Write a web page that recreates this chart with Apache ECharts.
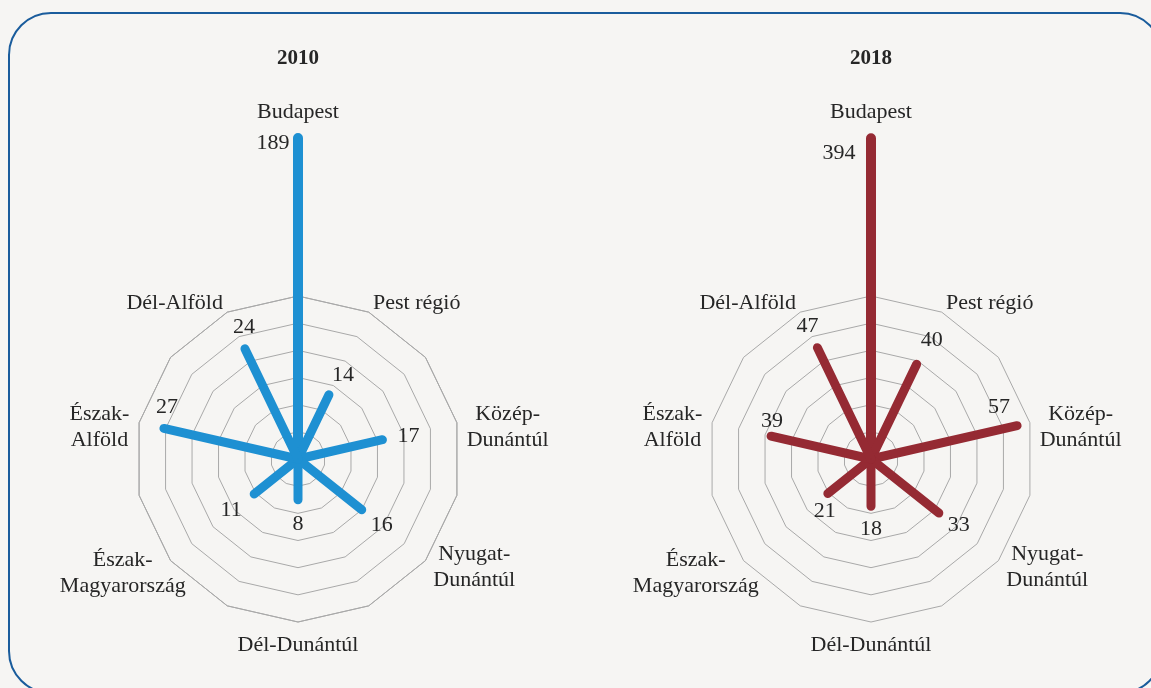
<!DOCTYPE html>
<html>
<head>
<meta charset="utf-8">
<script src="https://cdn.jsdelivr.net/npm/echarts@6/dist/echarts.min.js"></script>
<style>
  html, body { margin: 0; padding: 0; background: #f6f5f3; }
  #regio-chart { width: 1151px; height: 688px; }
</style>
</head>
<body>
<div id="regio-chart"></div>
<script>
  // régiók óramutató szerint, Budapesttől
  var regions = ['Budapest', 'Pest régió', 'Közép-Dunántúl', 'Nyugat-Dunántúl',
                 'Dél-Dunántúl', 'Észak-Magyarország', 'Észak-Alföld', 'Dél-Alföld'];
  // hányadik helyen áll a 14 tengelyes rácson
  var slots = [0, 1, 3, 5, 7, 9, 11, 13];
  var years = ['2010', '2018'];
  var values2010 = [189, 14, 17, 16, 8, 11, 27, 24];
  var values2018 = [394, 40, 57, 33, 18, 21, 39, 47];
  var axisMax = [32, 62];
  var axisCap = [63, 122]; // Budapest vonala itt el van vágva

  var FONT = '"Liberation Serif", "DejaVu Serif", serif';
  var TEXT = '#262626';
  var colors = ['#1e90d2', '#952a33'];
  var centers = [[298, 459], [871, 459]];
  // számcímkék eltolása a vonal végéhez képest
  var labelOffsets = [
    [[-25, 5], [14, -20], [26, -4], [20, 15], [0, 24], [-23, 16], [3, -21], [-1, -22]],
    [[-32, 15], [15, -24], [-18, -18], [20, 12], [0, 23], [-3, 18], [1, -15], [-10, -21]]
  ];

  var N = 14;
  function idxOf(slot) { return (N - slot) % N; }

  /*tengelynevek (rich)*/
  var nameFmt = {
    'Budapest': '{c|Budapest}\n{gap| }',
    'Pest régió': 'Pest régió',
    'Közép-Dunántúl': '{sp| }\n{c|Közép-}\n{c|Dunántúl}',
    'Nyugat-Dunántúl': '{c|Nyugat-}\n{c|Dunántúl}',
    'Dél-Dunántúl': 'Dél-Dunántúl',
    'Észak-Magyarország': '{sp2| }\n{m|Észak-}\n{m|Magyarország}',
    'Észak-Alföld': '{sp| }\n{c|Észak-}\n{c|Alföld}',
    'Dél-Alföld': 'Dél-Alföld'
  };

  var txt = { fontFamily: FONT, fontSize: 22, lineHeight: 26, color: TEXT };
  function rs(extra) { return Object.assign({}, txt, extra); }

  function makeRadar(k) {
    var ind = [];
    for (var j = 0; j < N; j++) ind.push({ name: '', max: axisMax[k], min: 0 });
    regions.forEach(function (r, i) { ind[idxOf(slots[i])].name = r; });
    return {
      indicator: ind,
      center: centers[k],
      radius: 163,
      startAngle: 90,
      splitNumber: 6,
      shape: 'polygon',
      axisNameGap: 10,
      axisName: {
        color: TEXT,
        fontFamily: FONT,
        fontSize: 22,
        lineHeight: 26,
        formatter: function (name) { return name ? (nameFmt[name] || name) : ''; },
        rich: {
          c: rs({ align: 'center' }),
          m: rs({ align: 'center', width: 80 }),
          gap: rs({ fontSize: 2, lineHeight: 161, height: 161 }),
          sp: rs({ fontSize: 2, lineHeight: 14, height: 14 }),
          sp2: rs({ fontSize: 2, lineHeight: 12, height: 12 })
        }
      },
      axisLine: { show: false },
      splitArea: { show: false },
      splitLine: { lineStyle: { color: '#a9a9a9', width: 1 } }
    };
  }

  function spokes(k, values) {
    return regions.map(function (r, i) {
      var v = [];
      for (var j = 0; j < N; j++) v.push(0);
      v[idxOf(slots[i])] = Math.min(values[i], axisCap[k]);
      return {
        type: 'radar',
        radarIndex: k,
        silent: true,
        emphasis: { disabled: true },
        symbol: 'circle',
        symbolSize: 2,
        itemStyle: { color: colors[k] },
        lineStyle: { color: colors[k], width: i === 0 ? 10 : 9, cap: 'round', join: 'round', opacity: 1 },
        label: {
          show: true,
          position: 'inside',
          offset: labelOffsets[k][i],
          color: TEXT,
          fontFamily: FONT,
          fontSize: 22,
          formatter: function (p) {
            return p.value > 0 ? String(values[i]) : '';
          }
        },
        data: [{ value: v, name: r }]
      };
    });
  }

  var chart = echarts.init(document.getElementById('regio-chart'));
  var option = {
    backgroundColor: '#f6f5f3',
    animation: false,
    title: years.map(function (y, k) {
      return {
        text: y,
        left: centers[k][0],
        top: 48,
        padding: 0,
        textAlign: 'center',
        textStyle: { fontFamily: FONT, fontSize: 21, fontWeight: 'bold', color: TEXT }
      };
    }),
    graphic: [{
      type: 'rect',
      silent: true,
      z: -1,
      shape: { x: 9, y: 13, width: 1153, height: 680, r: 42 },
      style: { fill: 'none', stroke: '#1a5c9c', lineWidth: 2 }
    }],
    radar: [makeRadar(0), makeRadar(1)],
    series: spokes(0, values2010).concat(spokes(1, values2018))
  };
  chart.setOption(option);
</script>
</body>
</html>
